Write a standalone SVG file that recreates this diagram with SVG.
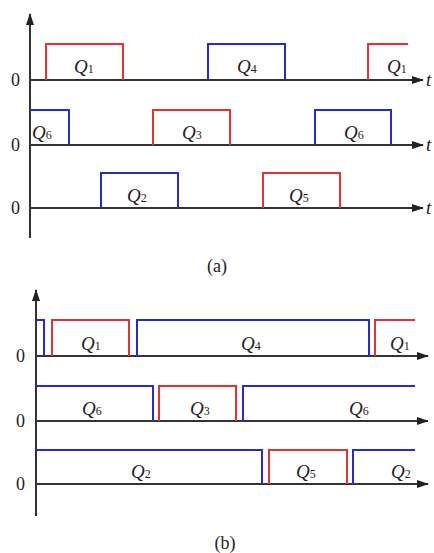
<svg xmlns="http://www.w3.org/2000/svg" width="434" height="553" viewBox="0 0 434 553">
<style>
.ax{stroke:#333;stroke-width:2;fill:none}
.r{stroke:#e03535;stroke-width:2;fill:none}
.b{stroke:#2a2ac8;stroke-width:2;fill:none}
.q{font-family:"Liberation Serif",serif;font-style:italic;font-size:19px;fill:#222}
.s{font-size:12px;font-style:normal}
.z{font-family:"Liberation Serif",serif;font-size:18px;fill:#222}
.c{font-family:"Liberation Serif",serif;font-size:18px;fill:#222}
</style>
<defs>
<marker id="ah" markerWidth="12" markerHeight="8" refX="11" refY="4" orient="auto" markerUnits="userSpaceOnUse">
<path d="M0,0 L12,4 L0,8 Z" fill="#222"/>
</marker>
</defs>
<g id="axes">
<line class="ax" x1="30" y1="238" x2="30" y2="14" marker-end="url(#ah)"/>
<line class="ax" x1="30" y1="80" x2="423" y2="80" marker-end="url(#ah)"/>
<line class="ax" x1="30" y1="145" x2="423" y2="145" marker-end="url(#ah)"/>
<line class="ax" x1="30" y1="208" x2="423" y2="208" marker-end="url(#ah)"/>
<line class="ax" x1="36" y1="516" x2="36" y2="290" marker-end="url(#ah)"/>
<line class="ax" x1="36" y1="356" x2="428" y2="356" marker-end="url(#ah)"/>
<line class="ax" x1="36" y1="421" x2="428" y2="421" marker-end="url(#ah)"/>
<line class="ax" x1="36" y1="484" x2="428" y2="484" marker-end="url(#ah)"/>
</g>
<g id="connectors">
<polyline class="r" points="46,80 46,44 123,44 123,80"/>
<polyline class="b" points="208,80 208,44 285,44 285,80"/>
<polyline class="r" points="368,80 368,44 408,44"/>
<polyline class="b" points="30,110 69,110 69,145"/>
<polyline class="r" points="153,145 153,110 230,110 230,145"/>
<polyline class="b" points="315,145 315,110 391,110 391,145"/>
<polyline class="b" points="101,208 101,173 178,173 178,208"/>
<polyline class="r" points="263,208 263,173 340,173 340,208"/>
<polyline class="b" points="36,320 44,320 44,356"/>
<polyline class="r" points="52,356 52,320 129,320 129,356"/>
<polyline class="b" points="137,356 137,320 369,320 369,356"/>
<polyline class="r" points="375,356 375,320 415,320"/>
<polyline class="b" points="36,386 153,386 153,421"/>
<polyline class="r" points="159,421 159,386 236,386 236,421"/>
<polyline class="b" points="243,421 243,386 415,386"/>
<polyline class="b" points="36,450 262,450 262,484"/>
<polyline class="r" points="269,484 269,450 347,450 347,484"/>
<polyline class="b" points="353,484 353,450 415,450"/>
</g>
<g id="labels-a">
<text class="z" x="11" y="86">0</text>
<text class="z" x="11" y="151">0</text>
<text class="z" x="11" y="214">0</text>
<text class="q" x="426" y="86">t</text>
<text class="q" x="426" y="151">t</text>
<text class="q" x="426" y="214">t</text>
<text class="q" x="74" y="73">Q<tspan class="s">1</tspan></text>
<text class="q" x="237" y="73">Q<tspan class="s">4</tspan></text>
<text class="q" x="387" y="73">Q<tspan class="s">1</tspan></text>
<text class="q" x="32" y="139">Q<tspan class="s">6</tspan></text>
<text class="q" x="182" y="139">Q<tspan class="s">3</tspan></text>
<text class="q" x="344" y="139">Q<tspan class="s">6</tspan></text>
<text class="q" x="127" y="202">Q<tspan class="s">2</tspan></text>
<text class="q" x="289" y="202">Q<tspan class="s">5</tspan></text>
<text class="c" x="217" y="272" text-anchor="middle">(a)</text>
</g>
<g id="labels-b">
<text class="z" x="16" y="362">0</text>
<text class="z" x="16" y="427">0</text>
<text class="z" x="16" y="490">0</text>
<text class="q" x="81" y="350">Q<tspan class="s">1</tspan></text>
<text class="q" x="241" y="350">Q<tspan class="s">4</tspan></text>
<text class="q" x="390" y="350">Q<tspan class="s">1</tspan></text>
<text class="q" x="82" y="415">Q<tspan class="s">6</tspan></text>
<text class="q" x="190" y="415">Q<tspan class="s">3</tspan></text>
<text class="q" x="349" y="415">Q<tspan class="s">6</tspan></text>
<text class="q" x="131" y="478">Q<tspan class="s">2</tspan></text>
<text class="q" x="296" y="478">Q<tspan class="s">5</tspan></text>
<text class="q" x="391" y="478">Q<tspan class="s">2</tspan></text>
<text class="c" x="225" y="549" text-anchor="middle">(b)</text>
</g>
</svg>
